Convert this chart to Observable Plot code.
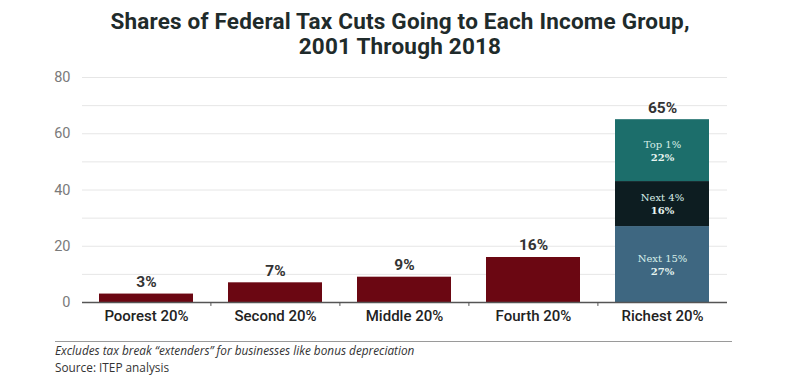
<!DOCTYPE html>
<html>
<head>
<meta charset="utf-8">
<script src="https://cdn.jsdelivr.net/npm/d3@7"></script>
<script src="https://cdn.jsdelivr.net/npm/@observablehq/plot@0.6"></script>
<style>
  body { margin: 0; background: #fff; width: 800px; height: 389px; overflow: hidden; }
  #title { font-family: Roboto, sans-serif; font-weight: 700; font-size: 22.5px; letter-spacing: 0.2px; line-height: 25px; color: #1f2b2b; text-align: center; padding-top: 9px; height: 53px; }
  #chart svg { display: block; }
  #caption { position: relative; margin-left: 55px; margin-top: 12px; width: 677px; border-top: 1.5px solid #9a9a9a; padding-top: 0px; font-family: "Open Sans", sans-serif; font-size: 11.8px; line-height: 16.5px; color: #333; }
  #caption .note { font-style: italic; }
</style>
</head>
<body>
<div id="title">Shares of Federal Tax Cuts Going to Each Income Group,<br>2001 Through 2018</div>
<div id="chart"></div>
<div id="caption"><div class="note">Excludes tax break “extenders” for businesses like bonus depreciation</div><div>Source: ITEP analysis</div></div>
<script>
const groups = ["Poorest 20%", "Second 20%", "Middle 20%", "Fourth 20%", "Richest 20%"];
const shares = [3, 7, 9, 16, 65];
const segmentNames = ["Next 15%", "Next 4%", "Top 1%"];
const segmentValues = [27, 16, 22];
const segmentColors = ["#3e6781", "#0d1d21", "#1c6e6b"];
const yTicks = [0, 20, 40, 60, 80];
const gridTicks = [10, 20, 30, 40, 50, 60, 70, 80];

const simple = groups.slice(0, 4).map((g, i) => ({group: g, value: shares[i]}));
const totals = groups.map((g, i) => ({group: g, value: shares[i], label: shares[i] + "%"}));
const segs = segmentNames.map((n, i) => ({group: groups[4], name: n, value: segmentValues[i], label: segmentValues[i] + "%"}));

const plot = Plot.plot({
  width: 800,
  height: 267,
  marginLeft: 82,
  marginRight: 73,
  marginTop: 15,
  marginBottom: 27,
  style: {fontFamily: "Roboto, sans-serif", background: "#fff"},
  x: {domain: groups, paddingInner: 0.27, paddingOuter: 0.13, label: null},
  y: {domain: [0, 80], label: null},
  color: {domain: segmentNames, range: segmentColors},
  marks: [
    Plot.gridY(gridTicks, {stroke: "#e6e6e6", strokeOpacity: 1, strokeWidth: 1}),
    Plot.barY(simple, {x: "group", y: "value", fill: "#6b0712"}),
    Plot.barY(segs, Plot.stackY({x: "group", y: "value", z: "name", fill: "name", order: null})),
    Plot.ruleY([0], {stroke: "#555", strokeWidth: 1.3}),
    Plot.ruleX(groups.slice(1), {x: d => d, dx: -64.6, y1: 0, y2: -1.4, stroke: "#555", strokeWidth: 1}),
    Plot.axisY({ticks: yTicks, tickSize: 0, tickPadding: 12, fontSize: 14.5, fill: "#7a7a7a", label: null}),
    Plot.axisX({tickSize: 0, tickPadding: 8, fontSize: 15, fontWeight: 500, fill: "#222", label: null}),
    Plot.text(totals, {x: "group", y: "value", text: "label", dy: -12, fontSize: 15.5, fontWeight: 700, fill: "#333"}),
    Plot.text(segs, Plot.stackY({x: "group", y: "value", z: "name", text: "name", order: null, dy: -6, fontSize: 10, fontFamily: "DejaVu Serif, serif", fill: "#d8efe9"})),
    Plot.text(segs, Plot.stackY({x: "group", y: "value", z: "name", text: "label", order: null, dy: 7, fontSize: 10, fontWeight: 700, fontFamily: "DejaVu Serif, serif", fill: "#e6f4f0"}))
  ]
});
document.getElementById("chart").append(plot);
</script>
</body>
</html>
